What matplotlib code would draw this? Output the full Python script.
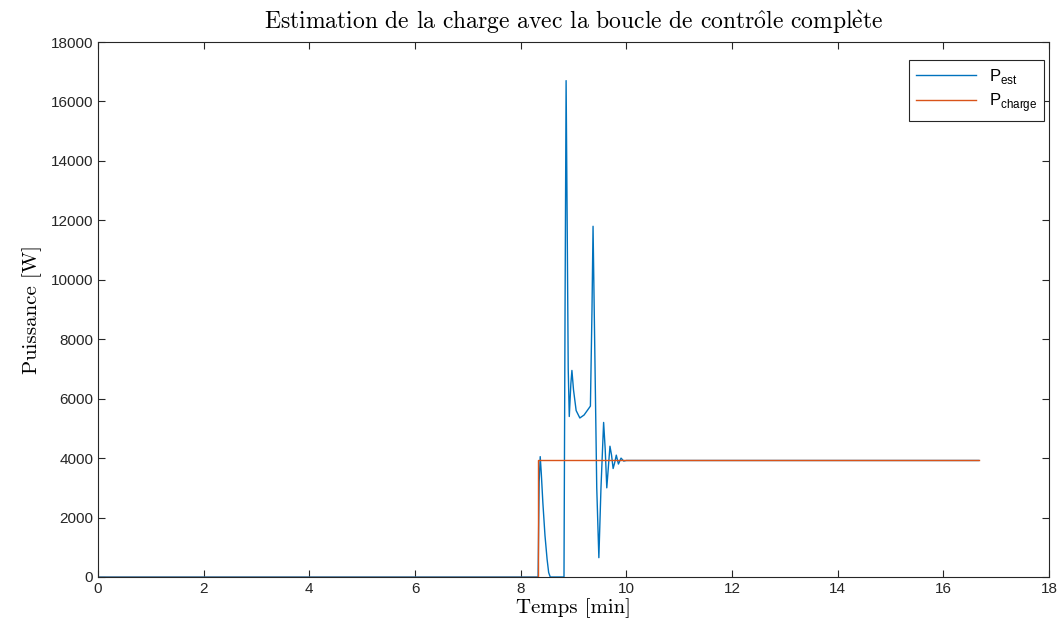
import matplotlib
matplotlib.use("Agg")
import matplotlib.pyplot as plt

# temps [min] et puissance estimee [W]
t_est = [0, 8.33, 8.35, 8.37, 8.39, 8.42, 8.46, 8.50, 8.53, 8.56,
         8.82, 8.84, 8.86, 8.88, 8.90, 8.92, 8.95, 8.97, 9.00, 9.05,
         9.12, 9.20, 9.28, 9.32, 9.35, 9.37, 9.40, 9.44, 9.48, 9.52,
         9.57, 9.60, 9.63, 9.66, 9.69, 9.72, 9.75, 9.78, 9.81, 9.85,
         9.90, 9.95, 10.0, 16.67]
p_est = [0, 0, 3200, 4050, 3500, 2500, 1400, 600, 150, 0,
         0, 9000, 16700, 12000, 7000, 5400, 6500, 6950, 6300, 5600,
         5350, 5450, 5650, 5750, 9000, 11800, 8000, 3000, 650, 3000,
         5200, 4300, 3000, 3700, 4400, 4100, 3650, 3850, 4100, 3800,
         4000, 3900, 3920, 3920]

# puissance de charge [W]
t_charge = [0, 8.33, 8.33, 16.67]
p_charge = [0, 0, 3920, 3920]

plt.rcParams['mathtext.fontset'] = 'custom'
plt.rcParams['mathtext.rm'] = 'cmr10'
plt.rcParams['mathtext.sf'] = 'Liberation Sans'

fig = plt.figure(figsize=(10.61, 6.39), dpi=100)
ax = fig.add_axes([98/1061, 1-577/639, (1049-98)/1061, (577-42)/639])

ax.plot(t_est, p_est, color="#0072BD", lw=1.0, label=r'$\mathsf{P}_{\mathsf{est}}$')
ax.plot(t_charge, p_charge, color="#D95319", lw=1.0, label=r'$\mathsf{P}_{\mathsf{charge}}$')

ax.set_xlim(0, 18)
ax.set_ylim(0, 18000)
ax.set_xticks(range(0, 19, 2))
ax.set_yticks(range(0, 18001, 2000))

gris = "#262626"
for s in ax.spines.values():
    s.set_color(gris)
    s.set_linewidth(0.8)
ax.tick_params(direction='in', top=True, right=True, colors=gris, length=5, width=0.8)
for lab in ax.get_xticklabels() + ax.get_yticklabels():
    lab.set_fontfamily('Liberation Sans')
    lab.set_fontsize(11)

serif = ['cmr10', 'DejaVu Serif']
ax.set_title(r'$\mathrm{Estimation\ de\ la\ charge\ avec\ la\ boucle\ de\ contr\hat{o}le\ compl\grave{e}te}$',
             fontsize=17, color='black', pad=9)
ax.set_xlabel('Temps [min]', fontfamily=serif, fontsize=15, labelpad=2)
ax.set_ylabel('Puissance [W]', fontfamily=serif, fontsize=15, labelpad=6)

leg = ax.legend(loc='upper right', fontsize=12, fancybox=False, framealpha=1,
                edgecolor=gris, handlelength=3.6, borderpad=0.4,
                labelspacing=0.35, borderaxespad=0.3,
                bbox_to_anchor=(1.0, 0.976))
leg.get_frame().set_linewidth(0.8)

fig.savefig("out.png", dpi=100)
